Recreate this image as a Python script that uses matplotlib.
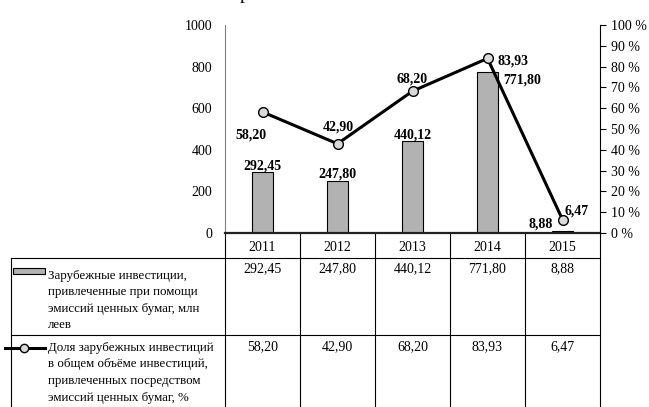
import numpy as np
import matplotlib
matplotlib.use("Agg")
import matplotlib.pyplot as plt
import matplotlib.transforms as mtransforms
from matplotlib.ticker import FuncFormatter

years = ["2011", "2012", "2013", "2014", "2015"]
investments = [292.45, 247.80, 440.12, 771.80, 8.88]
share = [58.20, 42.90, 68.20, 83.93, 6.47]
bar_label_text = ["292,45", "247,80", "440,12", "771,80", "8,88"]
share_label_text = ["58,20", "42,90", "68,20", "83,93", "6,47"]
row1_name = "Зарубежные инвестиции,\nпривлеченные при помощи\nэмиссий ценных бумаг, млн\nлеев"
row2_name = "Доля зарубежных инвестиций\nв общем объёме инвестиций,\nпривлеченных посредством\nэмиссий ценных бумаг, %"

plt.rcParams['font.family'] = ['Liberation Serif', 'DejaVu Serif']
plt.rcParams['font.size'] = 10

W, H = 649, 407
fig = plt.figure(figsize=(W / 100, H / 100), dpi=100)

# helper axes in pixel coords (y down) for the table
tab = fig.add_axes([0, 0, 1, 1])
tab.set_xlim(0, W)
tab.set_ylim(H, 0)
tab.axis("off")

x0, x1, ytop, ybot = 225, 600, 25, 233
ax = fig.add_axes([x0 / W, (H - ybot) / H, (x1 - x0) / W, (ybot - ytop) / H])
x = np.arange(len(years))
bars = ax.bar(x, investments, 0.28, color="#b2b2b2", edgecolor="black", linewidth=0.8, zorder=2)
ax.set_xlim(-0.5, len(years) - 0.5)
ax.set_ylim(0, 1000)
ax.set_yticks(np.arange(0, 1001, 200))
ax.tick_params(axis="y", length=0, pad=9, labelsize=10)
ax.set_xticks(x)
ax.set_xticklabels(years)
ax.tick_params(axis="x", length=0, pad=6, labelsize=10)
ax.spines["top"].set_visible(False)
ax.spines["right"].set_visible(False)
ax.spines["left"].set_color("#808080")
ax.spines["bottom"].set_linewidth(1.6)
ax.spines["bottom"].set_color("#222222")

ax2 = ax.twinx()
ax2.set_ylim(0, 100)
ax2.set_yticks(np.arange(0, 101, 10))
ax2.yaxis.set_major_formatter(FuncFormatter(lambda v, p: f"{int(v)} %"))
ax2.tick_params(axis="y", length=4, width=0.8, pad=4, labelsize=10)
ax2.spines["top"].set_visible(False)
ax2.spines["left"].set_visible(False)
ax2.spines["bottom"].set_visible(False)
ax2.plot(x, share, color="black", linewidth=2.2, marker="o", markersize=7,
         markerfacecolor="#d9d9d9", markeredgecolor="black", markeredgewidth=1, zorder=3)

bar_offsets = [(0, 6), (0, 7.5), (0, 6.5), (35, -8), (-22, 7)]
for i, (v, t) in enumerate(zip(investments, bar_label_text)):
    ax.annotate(t, (x[i], v), xytext=bar_offsets[i], textcoords="offset pixels",
                ha="center", va="center", fontweight="bold", fontsize=10)

share_offsets = [(-12, -23), (1, 17), (0, 12), (25, -3), (14, 9)]
for i, (v, t) in enumerate(zip(share, share_label_text)):
    ax2.annotate(t, (x[i], v), xytext=share_offsets[i], textcoords="offset pixels",
                 ha="center", va="center", fontweight="bold", fontsize=10)

# title cut off by the top edge in the source, only the descender shows
fig.text(240 / W, 1 + 1 / H, "р", fontsize=14, ha="left", va="baseline")

# data table below the chart
colx = mtransforms.blended_transform_factory(ax.transData, tab.transData)
for b in np.arange(len(years) + 1) - 0.5:
    tab.plot([b, b], [ybot, H], color="black", linewidth=0.8, transform=colx, clip_on=False)
tab.plot([11, 11], [258, H], color="black", linewidth=0.8)
for yy in [258, 335]:
    tab.plot([11, x1], [yy, yy], color="black", linewidth=0.8)

for i in range(len(years)):
    tab.text(x[i], 262, bar_label_text[i], transform=colx, ha="center", va="top", fontsize=10)
    tab.text(x[i], 340, share_label_text[i], transform=colx, ha="center", va="top", fontsize=10)

tab.add_patch(plt.Rectangle((13, 268), 32, 6, facecolor="#b2b2b2", edgecolor="black", linewidth=0.8))
tab.text(48, 270, row1_name, ha="left", va="top", fontsize=9.3, linespacing=1.5)
tab.plot([5, 45], [348, 348], color="black", linewidth=2.2)
tab.plot([24], [348], marker="o", markersize=6, markerfacecolor="#d9d9d9",
         markeredgecolor="black", markeredgewidth=1)
tab.text(48, 342, row2_name, ha="left", va="top", fontsize=9.3, linespacing=1.5)

fig.savefig("out.png", dpi=100)
